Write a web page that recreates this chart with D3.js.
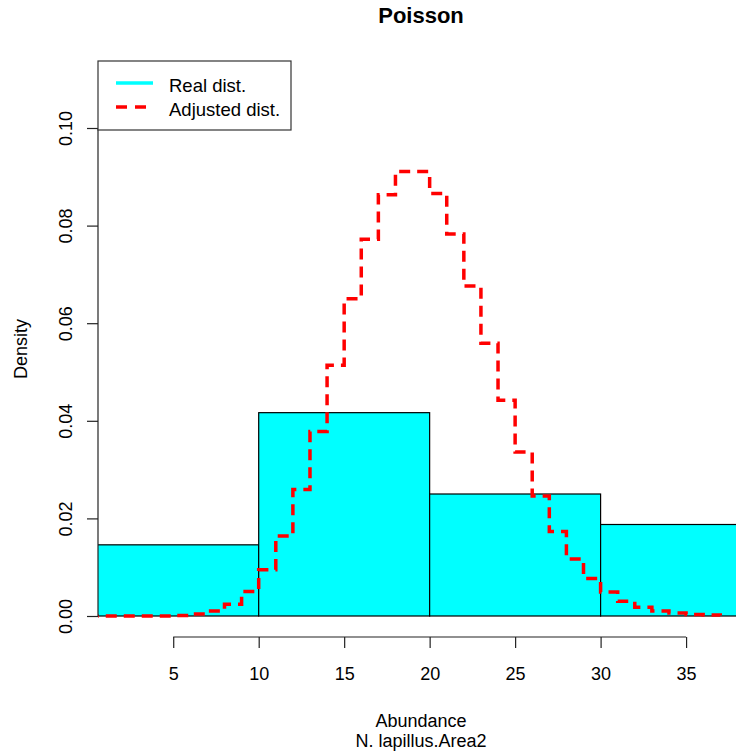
<!DOCTYPE html>
<html>
<head>
<meta charset="utf-8">
<script src="https://cdn.jsdelivr.net/npm/d3@7"></script>
<style>
	html, body { margin: 0; padding: 0; background: #fff; }
	svg { display: block; font-family: "Liberation Sans", Arial, sans-serif; }
</style>
</head>
<body>
<div id="chart"></div>
<script>
// histogram breaks and densities (Real dist.)
let breaks = [ 0, 10, 20, 30, 40 ],
	density = [ 0.014583, 0.041667, 0.025, 0.01875 ];

// adjusted (Poisson) curve, one value per abundance
let counts = [ 0, 1, 2, 3, 4, 5, 6, 7, 8, 9, 10, 11, 12, 13, 14, 15, 16, 17, 18, 19,
		20, 21, 22, 23, 24, 25, 26, 27, 28, 29, 30, 31, 32, 33, 34, 35, 36, 37 ],
	adjusted = [ 0.0000, 0.0000, 0.0000, 0.0000, 0.0000, 0.0001, 0.0004, 0.0010, 0.0024, 0.0050,
		0.0095, 0.0164, 0.0259, 0.0378, 0.0514, 0.0650, 0.0772, 0.0863, 0.0911, 0.0911,
		0.0866, 0.0783, 0.0676, 0.0559, 0.0442, 0.0336, 0.0246, 0.0173, 0.0117, 0.0077,
		0.0049, 0.0030, 0.0018, 0.0010, 0.0006, 0.0003, 0.0002, 0.0001 ];

let xTicks = [ 5, 10, 15, 20, 25, 30, 35 ],
	yTicks = [ 0, 0.02, 0.04, 0.06, 0.08, 0.10 ];

let width = 736,
	height = 755,
	// plot region (R style, axes sit on its edges)
	plot = { left: 98, right: 743, top: 61, bottom: 637 },

	svg = d3.select( '#chart' )
		.append( 'svg' )
		.attr( 'width', width )
		.attr( 'height', height ),

	x = d3.scaleLinear()
		.domain( [ 0.6, 38.33 ] )
		.range( [ plot.left, plot.right ] ),
	y = d3.scaleLinear()
		.domain( [ 0, 0.10 ] )
		.range( [ 616, 128 ] );

svg.append( 'defs' )
	.append( 'clipPath' )
	.attr( 'id', 'clip' )
	.append( 'rect' )
	.attr( 'x', plot.left )
	.attr( 'y', plot.top )
	.attr( 'width', plot.right - plot.left )
	.attr( 'height', plot.bottom - plot.top );

let g = svg.append( 'g' ).attr( 'clip-path', 'url(#clip)' );

// bars
g.selectAll( 'rect.bar' )
	.data( density )
	.enter()
	.append( 'rect' )
	.attr( 'class', 'bar' )
	.attr( 'x', ( d, i ) => x( breaks[ i ] ) )
	.attr( 'y', d => y( d ) )
	.attr( 'width', ( d, i ) => x( breaks[ i + 1 ] ) - x( breaks[ i ] ) )
	.attr( 'height', d => y( 0 ) - y( d ) )
	.attr( 'fill', '#00ffff' )
	.attr( 'stroke', '#000' )
	.attr( 'stroke-width', 1.2 );

// step line (type = "s")
let line = d3.line()
	.x( ( d, i ) => x( counts[ i ] ) )
	.y( d => y( d ) )
	.curve( d3.curveStepAfter );

g.append( 'path' )
	.datum( adjusted )
	.attr( 'd', line )
	.attr( 'fill', 'none' )
	.attr( 'stroke', '#ff0000' )
	.attr( 'stroke-width', 3.5 )
	.attr( 'stroke-dasharray', '11 7' );

// x axis
let xAxis = d3.axisBottom( x )
	.tickValues( xTicks )
	.tickSize( 11 )
	.tickPadding( 19 )
	.tickFormat( d3.format( 'd' ) );

let gx = svg.append( 'g' )
	.attr( 'transform', `translate(0,${ plot.bottom })` )
	.call( xAxis );
gx.select( '.domain' )
	.attr( 'd', `M${ x( xTicks[ 0 ] ) },0H${ x( xTicks[ xTicks.length - 1 ] ) }` );

// y axis
let yAxis = d3.axisLeft( y )
	.tickValues( yTicks )
	.tickSize( 11 )
	.tickFormat( d3.format( '.2f' ) );

let gy = svg.append( 'g' )
	.attr( 'transform', `translate(${ plot.left },0)` )
	.call( yAxis );
gy.select( '.domain' )
	.attr( 'd', `M0,${ y( yTicks[ 0 ] ) }V${ y( yTicks[ yTicks.length - 1 ] ) }` );
// labels parallel to the axis, baseline about one line out
gy.selectAll( '.tick text' )
	.attr( 'x', null )
	.attr( 'dy', null )
	.attr( 'text-anchor', 'middle' )
	.attr( 'transform', 'translate(-26,0) rotate(-90)' );

svg.selectAll( '.domain, .tick line' )
	.attr( 'stroke', '#222' )
	.attr( 'stroke-width', 1.2 );
svg.selectAll( '.tick text' )
	.attr( 'fill', '#000' )
	.attr( 'font-size', '18px' )
	.attr( 'font-family', '"Liberation Sans", Arial, sans-serif' );

// titles
let cx = ( plot.left + 744 ) / 2;

svg.append( 'text' )
	.attr( 'x', cx )
	.attr( 'y', 23 )
	.attr( 'text-anchor', 'middle' )
	.attr( 'font-size', '22px' )
	.attr( 'font-weight', 'bold' )
	.text( 'Poisson' );

svg.append( 'text' )
	.attr( 'x', cx )
	.attr( 'y', 727 )
	.attr( 'text-anchor', 'middle' )
	.attr( 'font-size', '18px' )
	.text( 'Abundance' );

svg.append( 'text' )
	.attr( 'x', cx )
	.attr( 'y', 747 )
	.attr( 'text-anchor', 'middle' )
	.attr( 'font-size', '18px' )
	.text( 'N. lapillus.Area2' );

svg.append( 'text' )
	.attr( 'transform', `translate(27,${ ( plot.top + plot.bottom ) / 2 }) rotate(-90)` )
	.attr( 'text-anchor', 'middle' )
	.attr( 'font-size', '18px' )
	.text( 'Density' );

// legend
let legend = svg.append( 'g' );

legend.append( 'rect' )
	.attr( 'x', plot.left )
	.attr( 'y', plot.top )
	.attr( 'width', 193 )
	.attr( 'height', 69 )
	.attr( 'fill', '#fff' )
	.attr( 'stroke', '#333' )
	.attr( 'stroke-width', 1.2 );

let items = [
	{ label: 'Real dist.', color: '#00ffff', dash: null },
	{ label: 'Adjusted dist.', color: '#ff0000', dash: '11 8' }
];

items.forEach( ( d, i ) => {
	let ly = 83 + i * 24;
	legend.append( 'line' )
		.attr( 'x1', 116 )
		.attr( 'x2', 153 )
		.attr( 'y1', ly )
		.attr( 'y2', ly )
		.attr( 'stroke', d.color )
		.attr( 'stroke-width', 3.5 )
		.attr( 'stroke-dasharray', d.dash );
	legend.append( 'text' )
		.attr( 'x', 169 )
		.attr( 'y', ly + 8.5 )
		.attr( 'font-size', '18.5px' )
		.text( d.label );
} );
</script>
</body>
</html>
